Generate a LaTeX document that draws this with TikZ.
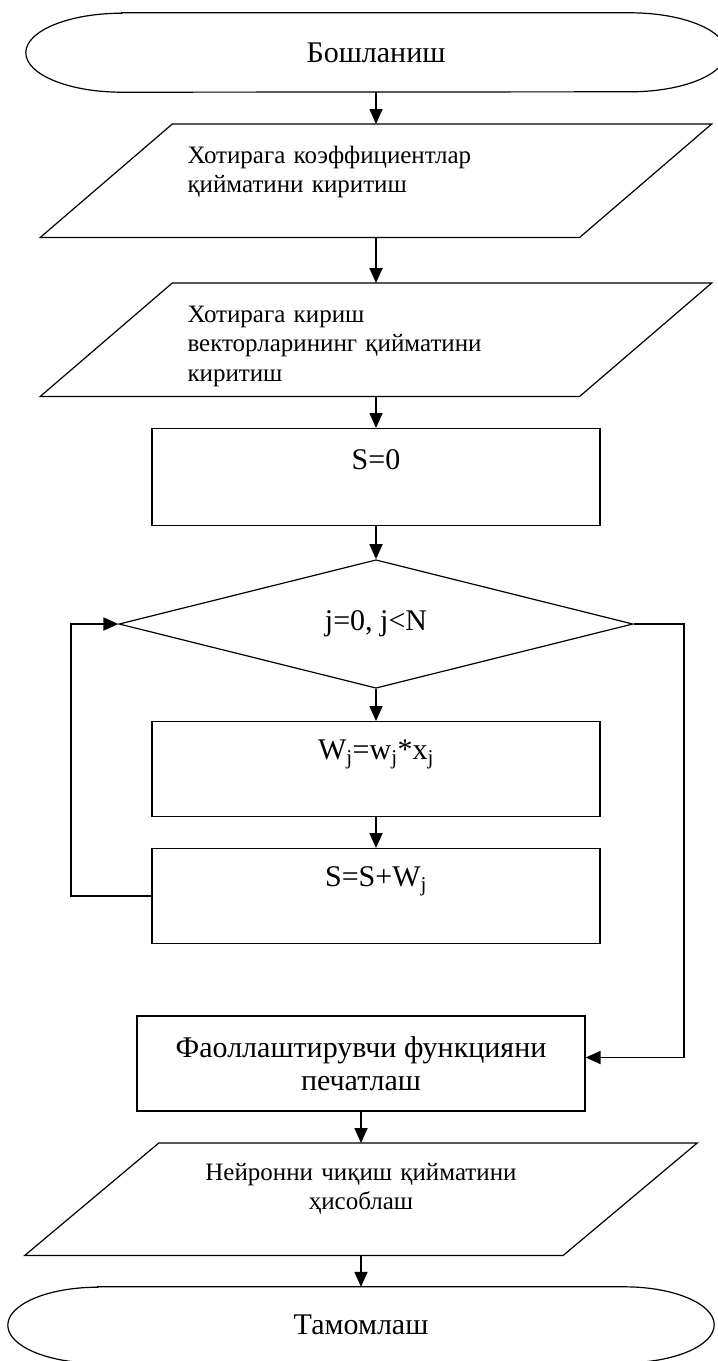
\documentclass[tikz,border=0pt]{standalone}
\usepackage{fontspec}
\setmainfont{Liberation Serif}
\usetikzlibrary{
arrows.meta,
shapes.geometric,
}

\tikzset{
	bigtext/.style={font=\fontsize{30}{33}\selectfont},
	smalltext/.style={font=\fontsize{25}{29.5}\selectfont},
	terminal/.style={inner sep=0pt, bigtext},
	iobox/.style={inner sep=0pt, smalltext},
	procbox/.style={draw, line width=1.2pt, inner sep=0pt, minimum width=448pt, bigtext},
	decision/.style={draw, diamond, line width=1.2pt, inner sep=0pt, minimum width=514pt, minimum height=126pt, bigtext},
	outline/.style={line width=1.2pt},
	flow/.style={line width=1.8pt, -{Triangle[length=15pt,width=13pt]}},
}

\begin{document}
\begin{tikzpicture}[x=1pt,y=-1pt]
		\useasboundingbox (0,0) rectangle (718,1361);

		\node[terminal, minimum width=700pt, minimum height=79pt] (start) at (376,52.5) {Бошланиш};
		\node[iobox, anchor=north, minimum width=671pt, text width=377pt, align=left, text height=39pt, text depth=74pt] (coef) at (376,124) {Хотирага коэффициентлар\\қийматини киритиш};
		\node[iobox, anchor=north, minimum width=671pt, text width=377pt, align=left, text height=39pt, text depth=74pt] (vec) at (376,283) {Хотирага кириш\\векторларининг қийматини\\киритиш};
		\node[procbox, anchor=north, text height=41pt, text depth=56pt] (init) at (376,428) {S=0};
		\node[decision] (loop) at (376,624) {j=0, j<N};
		\node[procbox, anchor=north, text height=38pt, text depth=57pt] (mult) at (376,721) {W\textsubscript{j}=w\textsubscript{j}*x\textsubscript{j}};
		\node[procbox, anchor=north, text height=38pt, text depth=57pt] (sum) at (376,848) {S=S+W\textsubscript{j}};
		\node[procbox, minimum height=95pt, align=center] (act) at (361,1063.5) {Фаоллаштирувчи функцияни\\печатлаш};
		\node[iobox, anchor=north, minimum width=672pt, text width=420pt, align=center, text height=37pt, text depth=75pt] (out) at (361,1143) {Нейронни чиқиш қийматини\\ҳисоблаш};
		\node[terminal, minimum width=706pt, minimum height=76pt] (end) at (361,1325) {Тамомлаш};

		% terminals
		\draw[outline] ([xshift=96pt]start.north west) -- ([xshift=-96pt]start.north east)
			arc[start angle=90, end angle=-90, x radius=96pt, y radius=39.5pt]
			-- ([xshift=96pt]start.south west)
			arc[start angle=270, end angle=90, x radius=96pt, y radius=39.5pt] -- cycle;
		\draw[outline] ([xshift=90pt]end.north west) -- ([xshift=-90pt]end.north east)
			arc[start angle=90, end angle=-90, x radius=90pt, y radius=38pt]
			-- ([xshift=90pt]end.south west)
			arc[start angle=270, end angle=90, x radius=90pt, y radius=38pt] -- cycle;

		% input / output
		\draw[outline] ([xshift=132pt]coef.north west) -- (coef.north east) -- ([xshift=-132pt]coef.south east) -- (coef.south west) -- cycle;
		\draw[outline] ([xshift=132pt]vec.north west) -- (vec.north east) -- ([xshift=-132pt]vec.south east) -- (vec.south west) -- cycle;
		\draw[outline] ([xshift=134pt]out.north west) -- (out.north east) -- ([xshift=-134pt]out.south east) -- (out.south west) -- cycle;

		\draw[flow] (start) -- (coef);
		\draw[flow] (coef) -- (vec);
		\draw[flow] (vec) -- (init);
		\draw[flow] (init) -- (loop);
		\draw[flow] (loop) -- (mult);
		\draw[flow] (mult) -- (sum);
		\draw[flow] (sum.west) -- ++(-80.5,0) |- (loop.west);
		\draw[flow] (loop.east) -- ++(50,0) |- ([yshift=6pt]act.east);
		\draw[flow] (act) -- (out);
		\draw[flow] (out) -- (end);
	\end{tikzpicture}
\end{document}
